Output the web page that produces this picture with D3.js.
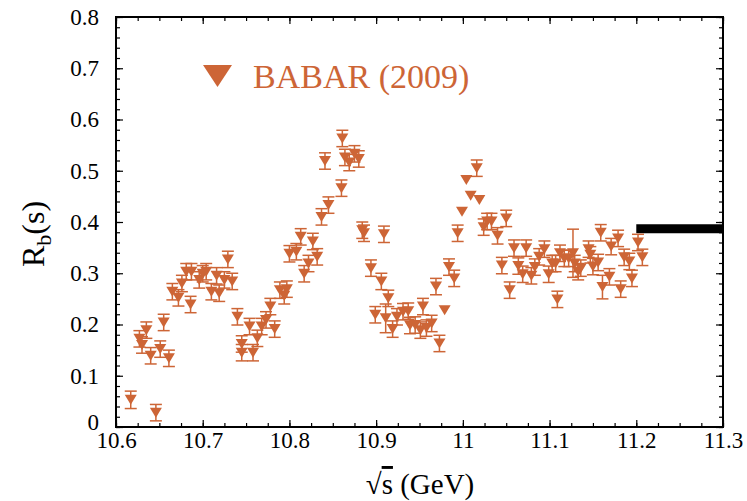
<!DOCTYPE html>
<html>
<head>
<meta charset="utf-8">
<script src="https://cdn.jsdelivr.net/npm/d3@7"></script>
<style>
  body { margin: 0; background: #fff; }
  svg { display: block; }
  text { font-family: "Liberation Serif", "Times New Roman", serif; }
</style>
</head>
<body>
<div id="chart-area"></div>
<script>
// BABAR (2009) R_b scan
var energy = [
  10.617, 10.627, 10.630, 10.635, 10.640, 10.646, 10.651, 10.655, 10.661, 10.665,
  10.672, 10.676, 10.681, 10.686, 10.687, 10.696, 10.700, 10.704, 10.710, 10.716,
  10.719, 10.725, 10.729, 10.734, 10.740, 10.745, 10.745, 10.754, 10.758, 10.763,
  10.768, 10.773, 10.778, 10.783, 10.789, 10.794, 10.797, 10.800, 10.808, 10.813,
  10.817, 10.822, 10.827, 10.832, 10.837, 10.841, 10.845, 10.860, 10.861, 10.864,
  10.869, 10.875, 10.880, 10.884, 10.886, 10.894, 10.899, 10.906, 10.909, 10.911,
  10.914, 10.919, 10.924, 10.931, 10.937, 10.939, 10.945, 10.951, 10.954, 10.958,
  10.964, 10.969, 10.973, 10.979, 10.984, 10.990, 10.994, 10.999, 11.004, 11.009,
  11.016, 11.019, 11.024, 11.028, 11.033, 11.040, 11.045, 11.050, 11.054, 11.059,
  11.064, 11.069, 11.073, 11.079, 11.083, 11.088, 11.094, 11.099, 11.103, 11.107,
  11.109, 11.112, 11.117, 11.122, 11.127, 11.129, 11.133, 11.136, 11.145, 11.147,
  11.150, 11.156, 11.159, 11.161, 11.169, 11.171, 11.179, 11.182, 11.186, 11.192,
  11.195, 11.202, 11.207
];
var rb = [
  0.053, 0.172, 0.160, 0.189, 0.139, 0.028, 0.152, 0.204, 0.134, 0.264,
  0.252, 0.280, 0.303, 0.239, 0.303, 0.287, 0.299, 0.303, 0.264, 0.295,
  0.261, 0.287, 0.327, 0.284, 0.215, 0.162, 0.145, 0.196, 0.145, 0.173,
  0.196, 0.209, 0.235, 0.191, 0.267, 0.256, 0.269, 0.338, 0.342, 0.371,
  0.299, 0.319, 0.362, 0.332, 0.410, 0.519, 0.433, 0.466, 0.563, 0.526,
  0.516, 0.533, 0.523, 0.384, 0.378, 0.310, 0.219, 0.284, 0.376, 0.212,
  0.251, 0.191, 0.215, 0.225, 0.226, 0.198, 0.199, 0.189, 0.235, 0.193,
  0.202, 0.274, 0.163, 0.228, 0.312, 0.290, 0.378, 0.420, 0.482, 0.451,
  0.505, 0.443, 0.390, 0.401, 0.401, 0.373, 0.315, 0.407, 0.267, 0.349,
  0.314, 0.298, 0.349, 0.295, 0.312, 0.332, 0.347, 0.298, 0.319, 0.319,
  0.249, 0.339, 0.329, 0.329, 0.339, 0.319, 0.303, 0.310, 0.347, 0.336,
  0.313, 0.321, 0.379, 0.273, 0.293, 0.352, 0.368, 0.269, 0.331, 0.323,
  0.290, 0.360, 0.331
];
// error: 0 means no visible bar
var rbErr = [
  0.017, 0.016, 0.016, 0.016, 0.016, 0.016, 0.016, 0.016, 0.016, 0.016,
  0.016, 0.016, 0.016, 0.016, 0.016, 0.016, 0.016, 0.016, 0.016, 0.016,
  0.016, 0.016, 0.016, 0.016, 0.016, 0.016, 0.016, 0.016, 0.016, 0.016,
  0.016, 0.016, 0.016, 0.016, 0.016, 0.016, 0.016, 0.016, 0.016, 0.016,
  0.016, 0.016, 0.016, 0.016, 0.016, 0.016, 0.016, 0.016, 0.016, 0.016,
  0.016, 0.016, 0.016, 0.016, 0.016, 0.016, 0.016, 0.016, 0.016, 0.028,
  0.016, 0.016, 0.016, 0.016, 0.016, 0.016, 0.016, 0.016, 0.016, 0.016,
  0.016, 0.016, 0.016, 0, 0.016, 0.016, 0.016, 0, 0, 0,
  0.016, 0, 0.016, 0.016, 0.016, 0.016, 0.016, 0.016, 0.016, 0.016,
  0.016, 0.016, 0.016, 0.016, 0.016, 0.016, 0.016, 0.016, 0.016, 0.016,
  0.016, 0.016, 0.016, 0.016, 0.047, 0.016, 0.016, 0.016, 0.016, 0.016,
  0.016, 0.016, 0.016, 0.023, 0.016, 0.016, 0.016, 0.016, 0.016, 0.016,
  0.016, 0.016, 0.016
];
var xTicks = [10.6, 10.7, 10.8, 10.9, 11.0, 11.1, 11.2, 11.3];
var yTicks = [0, 0.1, 0.2, 0.3, 0.4, 0.5, 0.6, 0.7, 0.8];
var bandX = [11.2, 11.3];
var bandY = 0.387;
var legendLabel = "BABAR (2009)";

var orange = "#cd6536";
var margin = {left: 116, right: 24, top: 17, bottom: 74};
var width = 747, height = 501;
var innerW = width - margin.left - margin.right;
var innerH = height - margin.top - margin.bottom;

var svg = d3.select("#chart-area")
  .append("svg")
    .attr("width", width)
    .attr("height", height);

var g = svg.append("g")
  .attr("transform", "translate(" + margin.left + "," + margin.top + ")");

var x = d3.scaleLinear().domain([10.6, 11.3]).range([0, innerW]);
var y = d3.scaleLinear().domain([0, 0.8]).range([innerH, 0]);

var fmt = function(d) { return String(+d.toFixed(2)); };
var xMinor = d3.range(0, 29).map(function(i) { return 10.6 + i * 0.025; });
var yMinor = d3.range(0, 41).map(function(i) { return i * 0.02; });

// minor ticks on all four sides
g.append("g").attr("transform", "translate(0," + innerH + ")")
  .call(d3.axisBottom(x).tickValues(xMinor).tickSize(-4).tickFormat(""));
g.append("g")
  .call(d3.axisTop(x).tickValues(xMinor).tickSize(-4).tickFormat(""));
g.append("g")
  .call(d3.axisLeft(y).tickValues(yMinor).tickSize(-4).tickFormat(""));
g.append("g").attr("transform", "translate(" + innerW + ",0)")
  .call(d3.axisRight(y).tickValues(yMinor).tickSize(-4).tickFormat(""));

// major ticks + labels
var xAxis = g.append("g").attr("class", "x-axis")
  .attr("transform", "translate(0," + innerH + ")")
  .call(d3.axisBottom(x).tickValues(xTicks).tickSize(-7).tickPadding(5).tickFormat(fmt));
g.append("g")
  .call(d3.axisTop(x).tickValues(xTicks).tickSize(-7).tickFormat(""));
var yAxis = g.append("g").attr("class", "y-axis")
  .call(d3.axisLeft(y).tickValues(yTicks).tickSize(-7).tickPadding(17).tickFormat(fmt));
g.append("g").attr("transform", "translate(" + innerW + ",0)")
  .call(d3.axisRight(y).tickValues(yTicks).tickSize(-7).tickFormat(""));

g.selectAll(".domain").remove();
g.selectAll(".tick line").attr("stroke", "#000").attr("stroke-width", 1.2);
g.selectAll(".tick text")
  .attr("font-family", "Liberation Serif, Times New Roman, serif")
  .attr("font-size", 23)
  .attr("fill", "#000");
// the "0" label sits a little high, as in the original
yAxis.selectAll(".tick text").filter(function(d) { return d === 0; })
  .attr("dy", "0.1em");

g.append("rect")
  .attr("width", innerW)
  .attr("height", innerH)
  .attr("fill", "none")
  .attr("stroke", "#000")
  .attr("stroke-width", 2);

// black band at high energy
g.append("line")
  .attr("x1", x(bandX[0]))
  .attr("x2", x(bandX[1]))
  .attr("y1", y(bandY))
  .attr("y2", y(bandY))
  .attr("stroke", "#000")
  .attr("stroke-width", 9);

var points = energy.map(function(e, i) {
  return {e: e, r: rb[i], err: rbErr[i]};
});

var capW = 6;
var bars = g.append("g").attr("class", "errors")
  .selectAll("g")
  .data(points.filter(function(d) { return d.err > 0; }))
  .enter()
  .append("g")
    .attr("stroke", orange)
    .attr("stroke-width", 1.5);

bars.append("line")
  .attr("x1", function(d) { return x(d.e); })
  .attr("x2", function(d) { return x(d.e); })
  .attr("y1", function(d) { return y(d.r - d.err); })
  .attr("y2", function(d) { return y(d.r + d.err); });
bars.append("line")
  .attr("x1", function(d) { return x(d.e) - capW; })
  .attr("x2", function(d) { return x(d.e) + capW; })
  .attr("y1", function(d) { return y(d.r - d.err); })
  .attr("y2", function(d) { return y(d.r - d.err); });
bars.append("line")
  .attr("x1", function(d) { return x(d.e) - capW; })
  .attr("x2", function(d) { return x(d.e) + capW; })
  .attr("y1", function(d) { return y(d.r + d.err); })
  .attr("y2", function(d) { return y(d.r + d.err); });

// downward triangle centred on its bounding box
function triDown(w, h) {
  return "M" + (-w / 2) + "," + (-h / 2) + "L" + (w / 2) + "," + (-h / 2) + "L0," + (h / 2) + "Z";
}

g.append("g").attr("class", "markers")
  .selectAll("path")
  .data(points)
  .enter()
  .append("path")
    .attr("d", triDown(12, 10))
    .attr("transform", function(d) { return "translate(" + x(d.e) + "," + y(d.r) + ")"; })
    .attr("fill", orange);

// legend
svg.append("path")
  .attr("d", triDown(29, 22))
  .attr("transform", "translate(217.5,76)")
  .attr("fill", orange);
svg.append("text")
  .attr("x", 253)
  .attr("y", 88)
  .attr("font-size", 34)
  .attr("fill", orange)
  .text(legendLabel);

// axis titles
var yTitle = svg.append("text")
  .attr("transform", "translate(44,234) rotate(-90)")
  .attr("text-anchor", "middle")
  .attr("font-size", 32)
  .attr("fill", "#000");
yTitle.append("tspan").text("R");
yTitle.append("tspan").attr("font-size", 22).attr("dy", 7).text("b");
yTitle.append("tspan").attr("dy", -7).text("(s)");

var xTitle = svg.append("text")
  .attr("x", 420)
  .attr("y", 494)
  .attr("text-anchor", "middle")
  .attr("font-size", 29)
  .attr("fill", "#000");
xTitle.append("tspan").text("\u221A");
xTitle.append("tspan").attr("text-decoration", "overline").text("s");
xTitle.append("tspan").text(" (GeV)");
</script>
</body>
</html>
